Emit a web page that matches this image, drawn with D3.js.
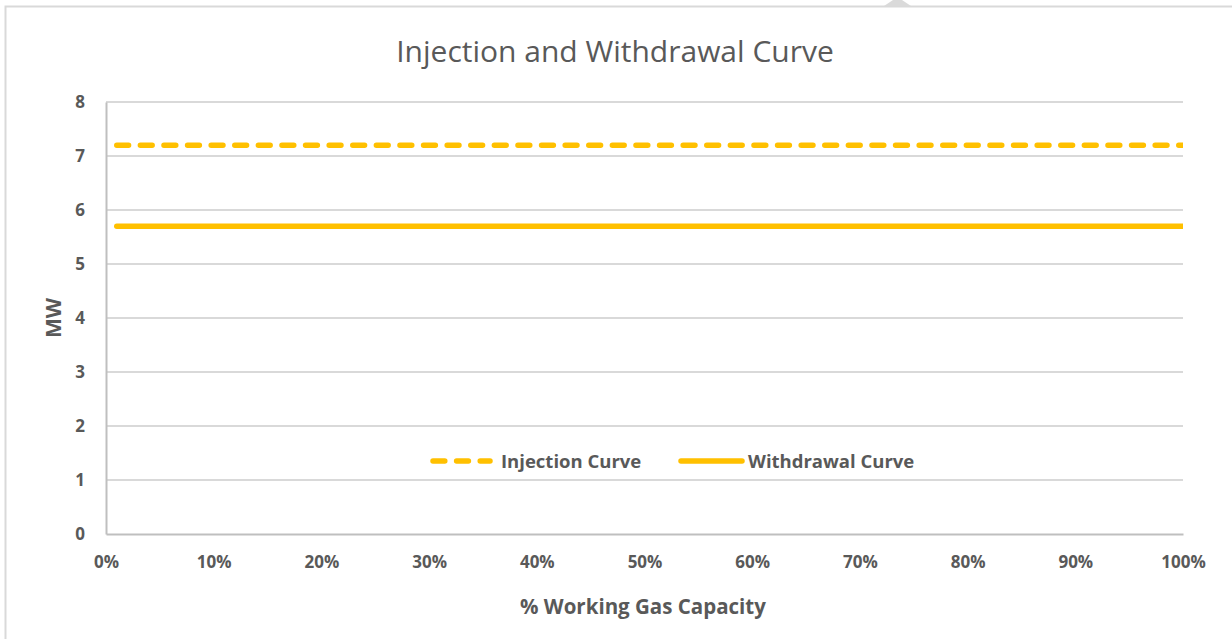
<!DOCTYPE html>
<html>
<head>
<meta charset="utf-8">
<script src="https://cdn.jsdelivr.net/npm/d3@7"></script>
<style>
  body { margin: 0; background: #fff; }
  svg { display: block; font-family: "Open Sans", sans-serif; }
</style>
</head>
<body>
<svg id="chart" width="1232" height="639"></svg>
<script>
// data
var capacity = [0.01, 1.00];
var injection = [7.2, 7.2];
var withdrawal = [5.7, 5.7];
var yTicks = [0, 1, 2, 3, 4, 5, 6, 7, 8];
var xTicks = [0, 0.1, 0.2, 0.3, 0.4, 0.5, 0.6, 0.7, 0.8, 0.9, 1.0];
var seriesNames = ["Injection Curve", "Withdrawal Curve"];

var width = 1232, height = 639;
var margin = {left: 106, right: 49, top: 102, bottom: 105};
var gold = "#ffc000", textCol = "#595959", gridCol = "#d9d9d9";

var svg = d3.select("#chart");

// chart frame
svg.append("rect")
  .attr("x", 5.5).attr("y", 6.5)
  .attr("width", width + 10).attr("height", height + 10)
  .attr("fill", "none").attr("stroke", "#d9d9d9").attr("stroke-width", 2);
svg.append("path")
  .attr("d", "M884,6 L893,0 L902,0 L911,6 Z")
  .attr("fill", "#dadada");

var x = d3.scaleLinear().domain([0, 1]).range([margin.left, width - margin.right]);
var y = d3.scaleLinear().domain([0, 8]).range([height - margin.bottom, margin.top]);

// gridlines
svg.append("g")
  .selectAll("line")
  .data(yTicks.slice(1))
  .enter().append("line")
  .attr("x1", x(0)).attr("x2", x(1))
  .attr("y1", function(d) { return y(d); })
  .attr("y2", function(d) { return y(d); })
  .attr("stroke", gridCol).attr("stroke-width", 2);

// axes
var yAxis = svg.append("g")
  .attr("transform", "translate(" + x(0) + ",0)")
  .call(d3.axisLeft(y).tickValues(yTicks).tickSize(0).tickPadding(21));
yAxis.select(".domain").attr("stroke", "#bfbfbf").attr("stroke-width", 2);
yAxis.selectAll("text")
  .attr("fill", textCol).attr("font-size", "17px").attr("font-weight", "bold")
  .attr("font-family", "Open Sans, sans-serif");

var xAxis = svg.append("g")
  .attr("transform", "translate(0," + y(0) + ")")
  .call(d3.axisBottom(x).tickValues(xTicks).tickSize(0).tickPadding(22)
    .tickFormat(d3.format(".0%")));
xAxis.select(".domain").attr("stroke", "#bfbfbf").attr("stroke-width", 2);
xAxis.selectAll("text")
  .attr("fill", textCol).attr("font-size", "17px").attr("font-weight", "bold")
  .attr("font-family", "Open Sans, sans-serif");

// clip lines to plot area
svg.append("clipPath").attr("id", "plotclip")
  .append("rect")
  .attr("x", x(0)).attr("y", y(8) - 5)
  .attr("width", x(1) - x(0)).attr("height", y(0) - y(8) + 5);

var line = d3.line()
  .x(function(d) { return x(d[0]); })
  .y(function(d) { return y(d[1]); });

var plot = svg.append("g").attr("clip-path", "url(#plotclip)");
plot.append("path")
  .datum(d3.zip(capacity, injection))
  .attr("d", line)
  .attr("fill", "none").attr("stroke", gold).attr("stroke-width", 5.5)
  .attr("stroke-linecap", "round").attr("stroke-dasharray", "11.8,11.8");
plot.append("path")
  .datum(d3.zip(capacity, withdrawal))
  .attr("d", line)
  .attr("fill", "none").attr("stroke", gold).attr("stroke-width", 5.5)
  .attr("stroke-linecap", "round");

// title
svg.append("text")
  .attr("x", 615).attr("y", 62)
  .attr("text-anchor", "middle")
  .attr("fill", textCol).attr("font-size", "30px")
  .text("Injection and Withdrawal Curve");

// axis titles
svg.append("text")
  .attr("x", 643).attr("y", 614)
  .attr("text-anchor", "middle")
  .attr("fill", textCol).attr("font-size", "20.5px").attr("font-weight", "bold")
  .text("% Working Gas Capacity");
svg.append("text")
  .attr("transform", "translate(61,318) rotate(-90)")
  .attr("text-anchor", "middle")
  .attr("fill", textCol).attr("font-size", "21px").attr("font-weight", "bold")
  .text("MW");

// legend
var legendItems = [
  {name: seriesNames[0], x0: 433, x1: 490, dash: "11.8,11.8", tx: 501},
  {name: seriesNames[1], x0: 681, x1: 742, dash: null, tx: 748}
];
var legend = svg.append("g");
legendItems.forEach(function(d) {
  legend.append("line")
    .attr("x1", d.x0).attr("x2", d.x1).attr("y1", 461).attr("y2", 461)
    .attr("stroke", gold).attr("stroke-width", 5.5)
    .attr("stroke-linecap", "round")
    .attr("stroke-dasharray", d.dash);
  legend.append("text")
    .attr("x", d.tx).attr("y", 467.5)
    .attr("fill", textCol).attr("font-size", "18.5px").attr("font-weight", "bold")
    .text(d.name);
});
</script>
</body>
</html>
